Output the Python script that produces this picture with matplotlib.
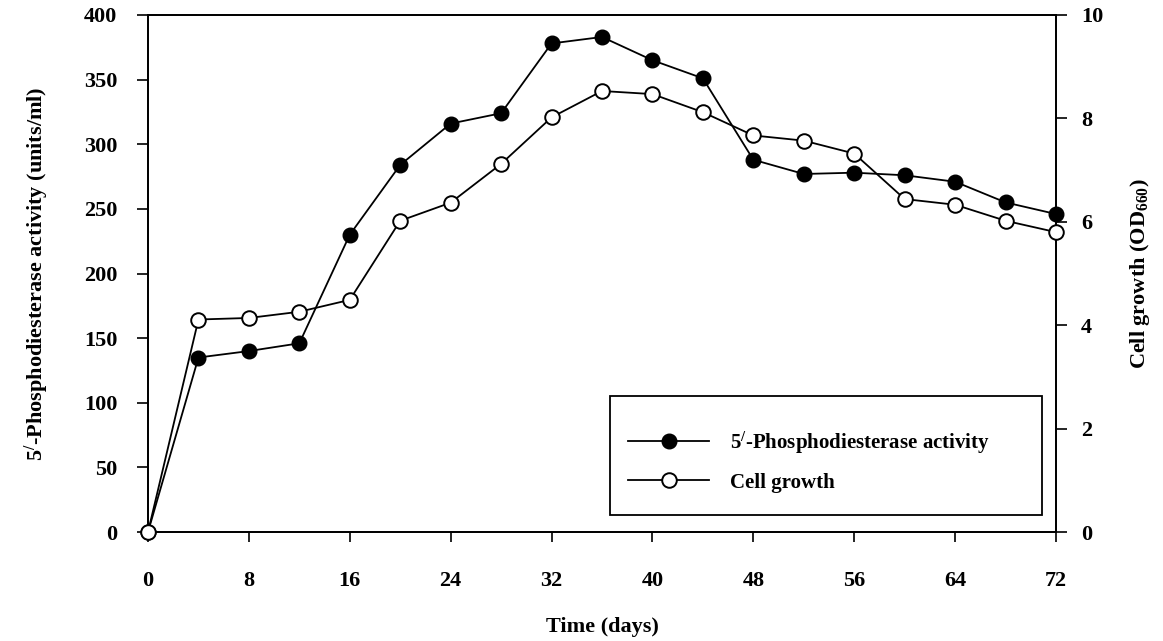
import matplotlib
matplotlib.use("Agg")
import matplotlib.pyplot as plt
from matplotlib.patches import Rectangle

plt.rcParams['font.family'] = ['Liberation Serif', 'DejaVu Serif']
plt.rcParams['font.weight'] = 'bold'
plt.rcParams['axes.labelweight'] = 'bold'
plt.rcParams['mathtext.fontset'] = 'custom'
plt.rcParams['mathtext.rm'] = 'Liberation Serif:bold'
plt.rcParams['mathtext.bf'] = 'Liberation Serif:bold'
plt.rcParams['mathtext.default'] = 'bf'

# Data
days = [0, 4, 8, 12, 16, 20, 24, 28, 32, 36, 40, 44, 48, 52, 56, 60, 64, 68, 72]
activity = [0, 135, 140, 146, 230, 284, 316, 324, 378, 383, 365, 351, 288,
            277, 278, 276, 271, 255, 246]
growth = [0, 4.11, 4.14, 4.26, 4.49, 6.02, 6.37, 7.12, 8.02, 8.53, 8.47, 8.12,
          7.67, 7.57, 7.32, 6.44, 6.33, 6.02, 5.80]

x_ticks = [0, 8, 16, 24, 32, 40, 48, 56, 64, 72]
left_ticks = [0, 50, 100, 150, 200, 250, 300, 350, 400]
right_ticks = [0, 2, 4, 6, 8, 10]

fig = plt.figure(figsize=(11.63, 6.41), dpi=100)
ax = fig.add_axes([148 / 1163, 1 - 532 / 641, 908 / 1163, 517 / 641])
ax2 = ax.twinx()

l1, = ax.plot(days, activity, color='black', lw=1.3, marker='o', ms=10.5,
              mfc='black', mec='black', zorder=3, clip_on=False)
l2, = ax2.plot(days, growth, color='black', lw=1.3, marker='o', ms=10.5,
               mfc='white', mec='black', mew=1.4, zorder=3, clip_on=False)

ax.set_xlim(0, 72)
ax.set_ylim(0, 400)
ax2.set_ylim(0, 10)
ax.set_xticks(x_ticks)
ax.set_yticks(left_ticks)
ax2.set_yticks(right_ticks)

ax.tick_params(axis='x', direction='out', length=7, width=1.2, pad=21, labelsize=16)
ax.tick_params(axis='y', direction='out', length=8, width=1.2, pad=14, labelsize=16)
ax2.tick_params(axis='y', direction='out', length=8, width=1.2, pad=10, labelsize=16)
for a in (ax, ax2):
    for s in a.spines.values():
        s.set_linewidth(1.3)

ax.set_xlabel('Time (days)', fontsize=16, labelpad=19)
ax.set_ylabel(r'5$^{/}$-Phosphodiesterase activity (units/ml)', fontsize=16, labelpad=24)
ax2.set_ylabel(r'Cell growth (OD$_{660}$)', fontsize=16, labelpad=18)

# legend box
ax2.add_patch(Rectangle((0.509, 0.033), 0.476, 0.230, transform=ax.transAxes,
                        fill=False, edgecolor='black', lw=1.3, zorder=4))
ax2.legend([l1, l2], [r'5$^{/}$-Phosphodiesterase activity', 'Cell growth'],
           loc='center left', bbox_to_anchor=(0.508, 0.137), frameon=False,
           fontsize=15, handlelength=3.9, handletextpad=1.0, labelspacing=0.8)

fig.savefig('out.png', dpi=100)
